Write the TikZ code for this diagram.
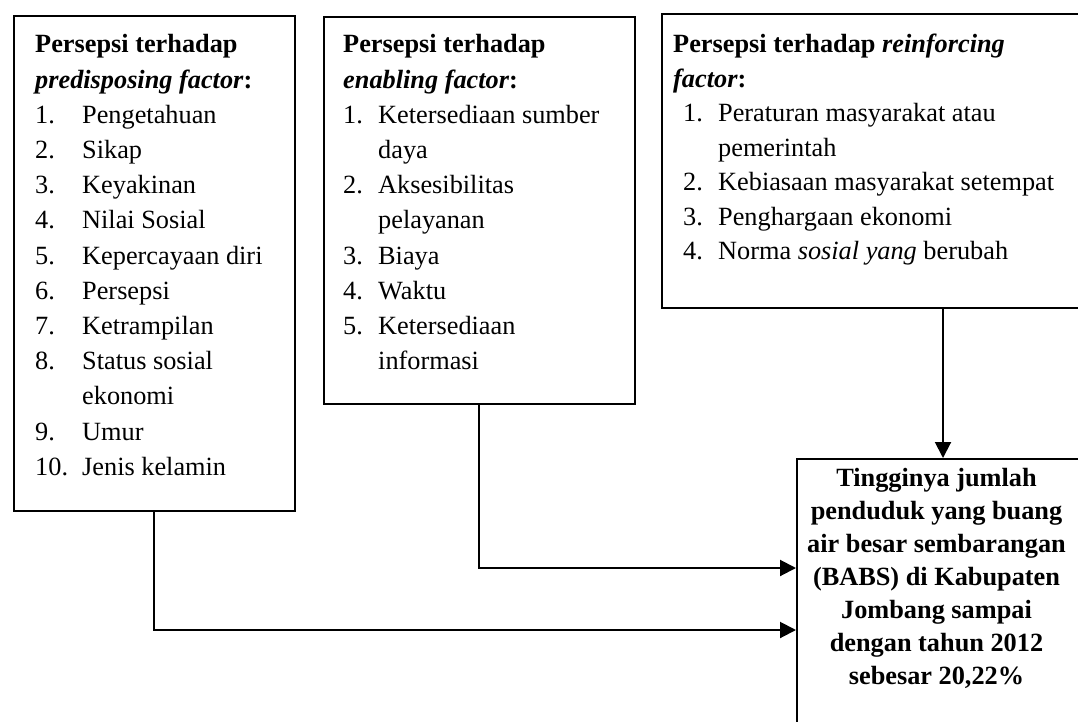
\documentclass[tikz,border=0pt]{standalone}
\usepackage{fontspec}
\setmainfont{Liberation Serif}
\usetikzlibrary{arrows.meta}
\newlength\numw
\newcommand\itm[2]{\makebox[\numw][l]{#1}#2}
\newcommand\itc[1]{\hspace*{\numw}#1}
\begin{document}
\begin{tikzpicture}[x=1pt,y=-1pt,
  box/.style={draw, line width=2pt, inner sep=0pt, anchor=north west},
  txt/.style={anchor=base west, inner sep=0pt},
  conn/.style={line width=2pt, -{Triangle[length=16pt,width=16pt]}}]
\useasboundingbox (0,0) rectangle (1078,722);
\clip (0,0) rectangle (1078,722);
% boxes
\node[box, minimum width=281, minimum height=495] (box1) at (13,15) {};
\node[box, minimum width=311, minimum height=387] (box2) at (323,16) {};
\node[box, minimum width=440, minimum height=294] (box3) at (661,13) {};
\node[box, minimum width=310, minimum height=290] (res) at (796,458) {};
% texts
\node[txt, font=\fontsize{26.3}{35.2}\selectfont] (t1) at (35,53) {\setlength\numw{47pt}\parbox[t]{400pt}{%
\textbf{Persepsi terhadap}\\
\textbf{\textit{predisposing factor}:}\\
\itm{1.}{Pengetahuan}\\
\itm{2.}{Sikap}\\
\itm{3.}{Keyakinan}\\
\itm{4.}{Nilai Sosial}\\
\itm{5.}{Kepercayaan diri}\\
\itm{6.}{Persepsi}\\
\itm{7.}{Ketrampilan}\\
\itm{8.}{Status sosial}\\
\itc{ekonomi}\\
\itm{9.}{Umur}\\
\itm{10.}{Jenis kelamin}}};
\node[txt, font=\fontsize{26.3}{35.2}\selectfont] (t2) at (343,53) {\setlength\numw{35pt}\parbox[t]{400pt}{%
\textbf{Persepsi terhadap}\\
\textbf{\textit{enabling factor}:}\\
\itm{1.}{Ketersediaan sumber}\\
\itc{daya}\\
\itm{2.}{Aksesibilitas}\\
\itc{pelayanan}\\
\itm{3.}{Biaya}\\
\itm{4.}{Waktu}\\
\itm{5.}{Ketersediaan}\\
\itc{informasi}}};
\node[txt, font=\fontsize{26.3}{34.5}\selectfont] (t3) at (673,53) {\setlength\numw{35pt}\parbox[t]{420pt}{%
\textbf{Persepsi terhadap \textit{reinforcing}}\\
\textbf{\textit{factor}:}\\
\hspace*{10pt}\itm{1.}{Peraturan masyarakat atau}\\
\hspace*{10pt}\itc{pemerintah}\\
\hspace*{10pt}\itm{2.}{Kebiasaan masyarakat setempat}\\
\hspace*{10pt}\itm{3.}{Penghargaan ekonomi}\\
\hspace*{10pt}\itm{4.}{Norma \textit{sosial yang} berubah}}};
\node[anchor=base, inner sep=0pt, font=\fontsize{26.3}{33}\selectfont\bfseries] (t4) at (936.5,486) {\parbox[t]{300pt}{\centering
Tingginya jumlah\\
penduduk yang buang\\
air besar sembarangan\\
(BABS) di Kabupaten\\
Jombang sampai\\
dengan tahun 2012\\
sebesar 20,22\%}};
% connectors
\coordinate (a1) at (154,0);
\coordinate (a2) at (479,0);
\coordinate (a3) at (943,0);
\coordinate (y1) at (0,630);
\coordinate (y2) at (0,568);
\draw[conn] (box1.south -| a1) |- (res.west |- y1);
\draw[conn] (box2.south -| a2) |- (res.west |- y2);
\draw[conn] (box3.south -| a3) -- (res.north -| a3);
\end{tikzpicture}
\end{document}
